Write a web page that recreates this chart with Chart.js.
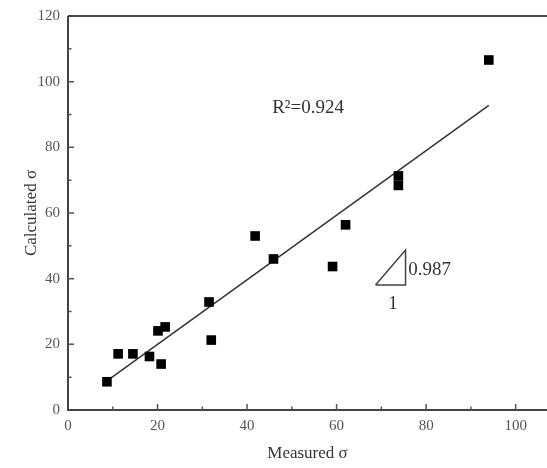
<!DOCTYPE html>
<html>
<head>
<meta charset="utf-8">
<script src="https://cdn.jsdelivr.net/npm/chart.js@4.4.1/dist/chart.umd.min.js"></script>
<style>
  html, body { margin: 0; padding: 0; background: #fff; }
  #wrap { width: 547px; height: 468px; }
</style>
</head>
<body>
<div id="wrap"><canvas id="chart" width="547" height="468"></canvas></div>
<script>
// Measured vs calculated sigma
const measured   = [8.7, 11.2, 14.5, 18.2, 20.1, 21.7, 20.8, 31.5, 32.0, 41.8, 45.9, 59.1, 62.0, 73.8, 73.8, 94.0];
const calculated = [8.6, 17.1, 17.1, 16.3, 24.1, 25.3, 14.0, 32.9, 21.3, 53.0, 46.0, 43.7, 56.4, 71.3, 68.4, 106.6];

// linear fit, slope 0.987
const fitX = [8.7, 94.0];
const fitY = [8.9, 92.8];

// slope triangle (data coordinates)
const triX = [68.7, 75.4, 75.4, 68.7];
const triY = [38.1, 48.7, 38.1, 38.1];

const xTicks = [0, 20, 40, 60, 80, 100];
const yTicks = [0, 20, 40, 60, 80, 100, 120];

const serif = "'Liberation Serif', 'DejaVu Serif', serif";

// frame, inward ticks and text notes
const decor = {
    id: 'decor',
    afterDraw(chart) {
        const ctx = chart.ctx;
        const a = chart.chartArea;
        const xs = chart.scales.x, ys = chart.scales.y;
        ctx.save();
        ctx.strokeStyle = '#444';
        ctx.lineWidth = 2;
        ctx.beginPath();
        ctx.moveTo(a.left, a.top);
        ctx.lineTo(a.right, a.top);
        ctx.moveTo(a.left, a.top);
        ctx.lineTo(a.left, a.bottom);
        ctx.lineTo(a.right, a.bottom);
        ctx.stroke();

        ctx.lineWidth = 1.5;
        ctx.strokeStyle = '#555';
        ctx.beginPath();
        for (let v = 10; v <= 100; v += 10) {
            const len = v % 20 === 0 ? 6 : 3.5;
            const px = xs.getPixelForValue(v);
            ctx.moveTo(px, a.bottom);
            ctx.lineTo(px, a.bottom - len);
        }
        for (let v = 10; v < 120; v += 10) {
            const len = v % 20 === 0 ? 6 : 3.5;
            const py = ys.getPixelForValue(v);
            ctx.moveTo(a.left, py);
            ctx.lineTo(a.left + len, py);
        }
        ctx.stroke();

        ctx.fillStyle = '#333';
        ctx.textBaseline = 'middle';
        ctx.textAlign = 'left';
        ctx.font = '19px ' + serif;
        ctx.fillText('R²=0.924', xs.getPixelForValue(45.6), ys.getPixelForValue(92));
        ctx.fillText('0.987', xs.getPixelForValue(76.0), ys.getPixelForValue(42.6));
        ctx.textAlign = 'center';
        ctx.fillText('1', xs.getPixelForValue(72.6), ys.getPixelForValue(32.4));
        ctx.restore();
    }
};

new Chart(document.getElementById('chart'), {
    type: 'scatter',
    data: {
        datasets: [{
            label: 'points',
            data: measured.map((x, i) => ({ x: x, y: calculated[i] })),
            pointStyle: 'rect',
            pointRadius: 6.8,
            pointBorderWidth: 0,
            backgroundColor: '#000',
            borderColor: '#000'
        }, {
            label: 'fit',
            type: 'line',
            data: fitX.map((x, i) => ({ x: x, y: fitY[i] })),
            borderColor: '#333',
            borderWidth: 1.5,
            pointRadius: 0,
            fill: false
        }, {
            label: 'slope',
            type: 'line',
            data: triX.map((x, i) => ({ x: x, y: triY[i] })),
            borderColor: '#444',
            borderWidth: 1.5,
            pointRadius: 0,
            fill: false
        }]
    },
    options: {
        responsive: false,
        animation: false,
        layout: { autoPadding: false, padding: { top: 16, right: 0, left: 0, bottom: 0 } },
        plugins: {
            legend: { display: false },
            tooltip: { enabled: false }
        },
        scales: {
            x: {
                type: 'linear',
                min: 0,
                max: 107,
                afterBuildTicks: s => { s.ticks = xTicks.map(v => ({ value: v })); },
                afterFit: s => { s.height = 58; s.paddingLeft = 0; s.paddingRight = 0; },
                grid: { display: false, drawTicks: false },
                border: { display: false },
                ticks: { color: '#555', padding: 7, font: { family: serif, size: 15 } },
                title: {
                    display: true,
                    text: 'Measured σ',
                    color: '#333',
                    padding: { top: 0, bottom: 4 },
                    font: { family: serif, size: 17 }
                }
            },
            y: {
                type: 'linear',
                min: 0,
                max: 120,
                afterBuildTicks: s => { s.ticks = yTicks.map(v => ({ value: v })); },
                afterFit: s => { s.width = 68; s.paddingTop = 0; s.paddingBottom = 0; },
                grid: { display: false, drawTicks: false },
                border: { display: false },
                ticks: { color: '#555', padding: 8, font: { family: serif, size: 15 } },
                title: {
                    display: true,
                    text: 'Calculated σ',
                    color: '#333',
                    padding: { top: 21, bottom: 0 },
                    font: { family: serif, size: 17 }
                }
            }
        }
    },
    plugins: [decor]
});
</script>
</body>
</html>
